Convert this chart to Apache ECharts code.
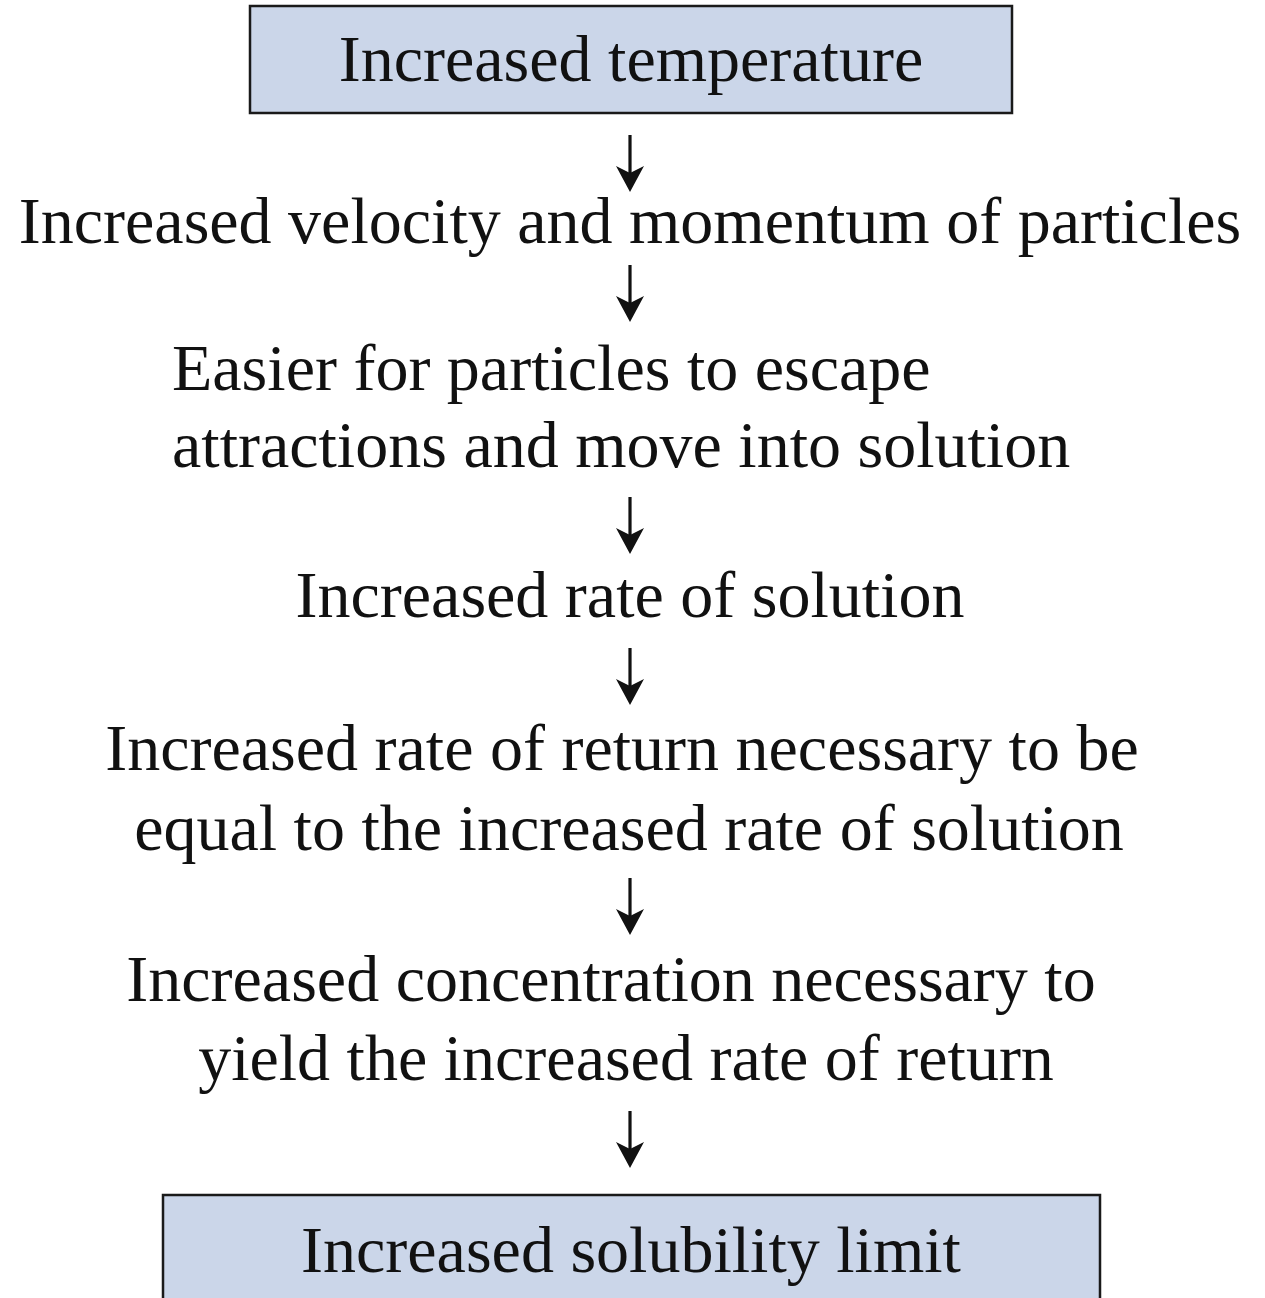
<!DOCTYPE html>
<html>
<head>
<meta charset="utf-8">
<script src="https://cdn.jsdelivr.net/npm/echarts@6/dist/echarts.min.js"></script>
<style>
  html, body { margin: 0; padding: 0; background: #fff; }
  #chart { width: 1265px; height: 1298px; }
</style>
</head>
<body>
<div id="chart"></div>
<script>
  // flow steps, top to bottom
  var steps = [
    ['Increased temperature'],
    ['Increased velocity and momentum of particles'],
    ['Easier for particles to escape', 'attractions and move into solution'],
    ['Increased rate of solution'],
    ['Increased rate of return necessary to be', 'equal to the increased rate of solution'],
    ['Increased concentration necessary to', 'yield the increased rate of return'],
    ['Increased solubility limit']
  ]
  var boxed = [true, false, false, false, false, false, true]

  // layout
  var fontSize = 66
  var fontFamily = '"Liberation Serif", "DejaVu Serif", serif'
  var baselines = [[81], [243], [390, 467], [617], [770, 850], [1001, 1080], [1272]]
  // centre x of each line, or left x when the step is left aligned
  var lineX = [[631], [630], [172, 172], [630], [622, 629], [611, 626], [631]]
  var leftAligned = [false, false, true, false, false, false, false]
  var boxes = [
    { x: 250, y: 6, width: 762, height: 107 },
    null, null, null, null, null,
    { x: 163, y: 1195, width: 937, height: 130 }
  ]
  var arrowX = 630
  var arrowTops = [135, 265, 497, 648, 878, 1111]
  var arrowLen = 57

  var elements = []

  steps.forEach(function (lines, i) {
    if (boxed[i]) {
      var b = boxes[i]
      elements.push({
        type: 'rect',
        shape: { x: b.x, y: b.y, width: b.width, height: b.height },
        style: { fill: '#cbd6e9', stroke: '#1a1a1a', lineWidth: 2.5 },
        z: 1
      })
    }
    lines.forEach(function (line, j) {
      elements.push({
        type: 'text',
        x: lineX[i][j],
        y: baselines[i][j] - fontSize * 0.26,
        style: {
          text: line,
          fill: '#111',
          font: 'normal ' + fontSize + 'px ' + fontFamily,
          align: leftAligned[i] ? 'left' : 'center',
          verticalAlign: 'middle'
        },
        z: 2
      })
    })
  })

  arrowTops.forEach(function (top) {
    elements.push({
      type: 'rect',
      shape: { x: arrowX - 1.6, y: top, width: 3.2, height: arrowLen - 18 },
      style: { fill: '#111' },
      z: 2
    })
    elements.push({
      type: 'polygon',
      shape: {
        points: [
          [arrowX, top + arrowLen],
          [arrowX - 14, top + arrowLen - 26],
          [arrowX, top + arrowLen - 19],
          [arrowX + 14, top + arrowLen - 26]
        ]
      },
      style: { fill: '#111' },
      z: 2
    })
  })

  var chart = echarts.init(document.getElementById('chart'))
  chart.setOption({
    backgroundColor: '#fff',
    animation: false,
    graphic: { elements: elements }
  })
  window.addEventListener('resize', function () {
    chart.resize()
  })
</script>
</body>
</html>
